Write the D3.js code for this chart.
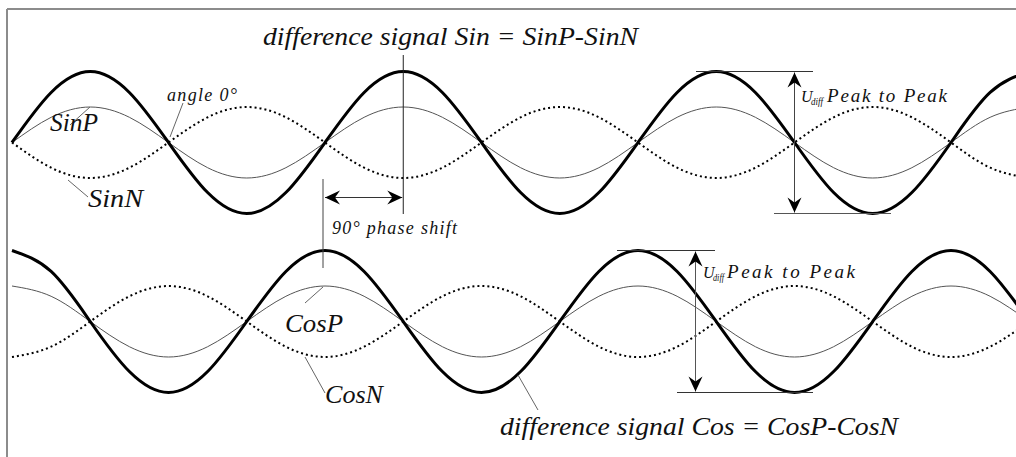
<!DOCTYPE html>
<html>
<head>
<meta charset="utf-8">
<script src="https://cdn.jsdelivr.net/npm/d3@7"></script>
<style>
  body { margin: 0; background: #fff; }
  svg { display: block; }
  text { font-family: "Liberation Serif", "Times New Roman", serif; font-style: italic; fill: #111; }
</style>
</head>
<body>
<svg id="chart" width="1016" height="457"></svg>
<script>
// electrical angle in degrees, one sample every 45 deg
var angles = [0,45,90,135,180,225,270,315,360,405,450,495,540,585,630,675,720,765,810,855,900,945,990,1035,1080,1125,1170];

// sine channel (volts, relative)
var sinP    = [0,.71,1,.71,0,-.71,-1,-.71, 0,.71,1,.71,0,-.71,-1,-.71, 0,.71,1,.71,0,-.71,-1,-.71, 0,.71,1];
var sinN    = [0,-.71,-1,-.71,0,.71,1,.71, 0,-.71,-1,-.71,0,.71,1,.71, 0,-.71,-1,-.71,0,.71,1,.71, 0,-.71,-1];
var sinDiff = [0,1.41,2,1.41,0,-1.41,-2,-1.41, 0,1.41,2,1.41,0,-1.41,-2,-1.41, 0,1.41,2,1.41,0,-1.41,-2,-1.41, 0,1.41,2];

// cosine channel
var cosP    = [1,.71,0,-.71,-1,-.71,0,.71, 1,.71,0,-.71,-1,-.71,0,.71, 1,.71,0,-.71,-1,-.71,0,.71, 1,.71,0];
var cosN    = [-1,-.71,0,.71,1,.71,0,-.71, -1,-.71,0,.71,1,.71,0,-.71, -1,-.71,0,.71,1,.71,0,-.71, -1,-.71,0];
var cosDiff = [2,1.41,0,-1.41,-2,-1.41,0,1.41, 2,1.41,0,-1.41,-2,-1.41,0,1.41, 2,1.41,0,-1.41,-2,-1.41,0,1.41, 2,1.41,0];

var titles = ["difference signal Sin = SinP-SinN", "difference signal Cos = CosP-CosN"];
var labels = ["SinP", "SinN", "CosP", "CosN"];

var svg = d3.select("#chart");

var x = d3.scaleLinear().domain([0, 1080]).range([12, 951]);
var yTop = d3.scaleLinear().domain([-2, 2]).range([213.5, 71.5]);
var yBot = d3.scaleLinear().domain([-2, 2]).range([392.5, 250.5]);

// arrow head
var defs = svg.append("defs");
defs.append("marker")
    .attr("id", "arr")
    .attr("viewBox", "-16 -8 17 16")
    .attr("refX", 0).attr("refY", 0)
    .attr("markerWidth", 17).attr("markerHeight", 16)
    .attr("markerUnits", "userSpaceOnUse")
    .attr("orient", "auto-start-reverse")
  .append("path")
    .attr("d", "M0,0 L-15,-7 L-10,0 L-15,7 Z")
    .attr("fill", "#000");

// frame (top + left only)
svg.append("line").attr("x1", 7).attr("y1", 9).attr("x2", 1016).attr("y2", 9)
    .attr("stroke", "#8c8c8c").attr("stroke-width", 2);
svg.append("line").attr("x1", 7).attr("y1", 9).attr("x2", 7).attr("y2", 457)
    .attr("stroke", "#8c8c8c").attr("stroke-width", 2);

function drawWave(vals, y, kind) {
    var line = d3.line()
        .x(function(d, i) { return x(angles[i]); })
        .y(function(d) { return y(d); })
        .curve(d3.curveNatural);
    var p = svg.append("path").datum(vals).attr("d", line).attr("fill", "none");
    if (kind == "thin") p.attr("stroke", "#555").attr("stroke-width", 1);
    if (kind == "dot") p.attr("stroke", "#000").attr("stroke-width", 2).attr("stroke-dasharray", "2,3");
    if (kind == "thick") p.attr("stroke", "#000").attr("stroke-width", 3);
}

drawWave(sinP, yTop, "thin");
drawWave(sinN, yTop, "dot");
drawWave(sinDiff, yTop, "thick");
drawWave(cosP, yBot, "thin");
drawWave(cosN, yBot, "dot");
drawWave(cosDiff, yBot, "thick");

function seg(x1, y1, x2, y2, col) {
    return svg.append("line").attr("x1", x1).attr("y1", y1).attr("x2", x2).attr("y2", y2)
        .attr("stroke", col || "#666").attr("stroke-width", 1);
}

// leader lines
seg(170, 137, 183, 103);   // angle 0
seg(70, 125, 90, 107);     // SinP
seg(68, 180, 88, 197);     // SinN
seg(305, 303, 323, 287);   // CosP
seg(305, 357, 325, 393);   // CosN
seg(518, 375, 538, 410);   // Cos difference

// title marker and phase shift
seg(x(450), 55, x(450), 214, "#222");
seg(323, 179, 323, 268, "#444");
seg(325, 197.5, x(450) - 1, 197.5, "#333")
    .attr("marker-start", "url(#arr)").attr("marker-end", "url(#arr)");

// Udiff peak to peak, top
seg(696, yTop(2), 813, yTop(2), "#333");
seg(774, yTop(-2), 891, yTop(-2), "#555");
seg(x(900), yTop(2) + 1, x(900), yTop(-2) - 1, "#444")
    .attr("marker-start", "url(#arr)").attr("marker-end", "url(#arr)");

// Udiff peak to peak, bottom
seg(617, yBot(2), 715, yBot(2), "#333");
seg(677, yBot(-2), 813, yBot(-2), "#333");
seg(695.5, yBot(2) + 1, 695.5, yBot(-2) - 1, "#555")
    .attr("marker-start", "url(#arr)").attr("marker-end", "url(#arr)");

function label(str, px, py, size, len, adj) {
    var t = svg.append("text").attr("x", px).attr("y", py)
        .attr("font-size", size).text(str);
    if (len) t.attr("textLength", len).attr("lengthAdjust", adj || "spacingAndGlyphs");
    return t;
}

label(titles[0], 263, 45, 26, 375);
label(titles[1], 500, 435, 26, 398);
label(labels[0], 50, 131, 25, 48);
label(labels[1], 88, 207, 25, 55);
label(labels[2], 285, 332, 25, 58);
label(labels[3], 325, 403, 25, 58);
label("angle 0\u00b0", 167, 101, 18, 70, "spacing");
label("90\u00b0 phase shift", 332, 234, 18, 125, "spacing");

label("U", 801, 102, 16);
label("diff", 811, 104.5, 10, 12);
label("Peak to Peak", 827, 102, 19, 120, "spacing");
label("U", 703, 278, 16);
label("diff", 713, 280.5, 10, 11);
label("Peak to Peak", 727, 278, 19, 128, "spacing");
</script>
</body>
</html>
